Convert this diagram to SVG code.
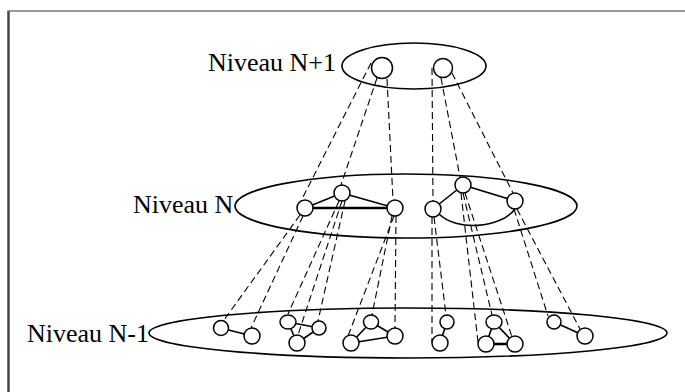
<svg xmlns="http://www.w3.org/2000/svg" width="685" height="392" viewBox="0 0 685 392">
  <style>
    .lvl { fill: none; stroke: #000; stroke-width: 1.6; }
    .nd { fill: #fff; stroke: #000; stroke-width: 1.5; }
    .ed { fill: none; stroke: #000; stroke-width: 1.6; }
    .ed-thick { fill: none; stroke: #000; stroke-width: 2.6; }
    .map { fill: none; stroke: #000; stroke-width: 1.1; stroke-dasharray: 7 4; }
    .lbl { font-family: "Liberation Serif", "Times New Roman", serif; font-size: 26px; fill: #000; }
  </style>
  <rect width="685" height="392" fill="#fff"/>

  <!-- outer frame (only left and top edges fall inside the canvas) -->
  <path d="M 8.5 392 V 11" stroke="#444" stroke-width="2.5" fill="none"/>
  <path d="M 7.5 11 H 685" stroke="#777" stroke-width="1.5" fill="none"/>

  <!-- level boundaries -->
  <g id="level-n1">
    <ellipse class="lvl" cx="414" cy="66" rx="72" ry="23"/>
    <text class="lbl" x="208" y="71">Niveau N+1</text>
  </g>
  <g id="level-n">
    <ellipse class="lvl" cx="406" cy="206" rx="171" ry="32"/>
    <text class="lbl" x="133" y="213">Niveau N</text>
  </g>
  <g id="level-n-1">
    <ellipse class="lvl" cx="408" cy="333" rx="259" ry="25"/>
    <text class="lbl" x="27" y="342">Niveau N-1</text>
  </g>

  <g id="connectors">
    <!-- inter-level mappings: N+1 to N -->
    <line class="map" x1="371" y1="63" x2="301" y2="201"/>
    <line class="map" x1="377" y1="78" x2="341" y2="185"/>
    <line class="map" x1="387" y1="79" x2="393" y2="200"/>
    <line class="map" x1="432" y1="68" x2="433" y2="201"/>
    <line class="map" x1="441" y1="78" x2="460" y2="177"/>
    <line class="map" x1="452" y1="73" x2="513" y2="193"/>
    <!-- inter-level mappings: N to N-1 -->
    <line class="map" x1="300" y1="215" x2="224" y2="320"/>
    <line class="map" x1="303" y1="216" x2="251" y2="328"/>
    <line class="map" x1="339" y1="201" x2="288" y2="314"/>
    <line class="map" x1="342" y1="201" x2="298" y2="335"/>
    <line class="map" x1="345" y1="201" x2="318" y2="321"/>
    <line class="map" x1="392" y1="216" x2="372" y2="315"/>
    <line class="map" x1="394" y1="216" x2="348" y2="336"/>
    <line class="map" x1="396" y1="216" x2="395" y2="328"/>
    <line class="map" x1="432" y1="217" x2="432" y2="343"/>
    <line class="map" x1="434" y1="217" x2="446" y2="315"/>
    <line class="map" x1="461" y1="193" x2="478" y2="342"/>
    <line class="map" x1="463" y1="193" x2="492" y2="315"/>
    <line class="map" x1="465" y1="193" x2="512" y2="337"/>
    <line class="map" x1="514" y1="209" x2="548" y2="316"/>
    <line class="map" x1="517" y1="209" x2="580" y2="329"/>

    <!-- edges inside level N -->
    <line class="ed" x1="305" y1="208" x2="342" y2="193"/>
    <line class="ed" x1="342" y1="193" x2="395" y2="208"/>
    <line class="ed-thick" x1="305" y1="208" x2="395" y2="208"/>
    <line class="ed" x1="433" y1="209" x2="463" y2="185"/>
    <line class="ed" x1="463" y1="185" x2="515" y2="201"/>
    <path class="ed" d="M 439 214 C 456 231, 500 229, 515 209"/>

    <!-- edges inside level N-1 -->
    <line class="ed" x1="221" y1="328" x2="252" y2="336"/>
    <line class="ed" x1="288" y1="322" x2="319" y2="328"/>
    <line class="ed" x1="288" y1="322" x2="297" y2="343"/>
    <line class="ed" x1="297" y1="343" x2="319" y2="328"/>
    <line class="ed" x1="351" y1="343" x2="371" y2="322"/>
    <line class="ed" x1="371" y1="322" x2="395" y2="336"/>
    <line class="ed" x1="351" y1="343" x2="395" y2="336"/>
    <line class="ed" x1="440" y1="343" x2="447" y2="322"/>
    <line class="ed" x1="494" y1="322" x2="486" y2="344"/>
    <line class="ed" x1="494" y1="322" x2="515" y2="344"/>
    <line class="ed-thick" x1="486" y1="344" x2="515" y2="344"/>
    <line class="ed" x1="554" y1="322" x2="585" y2="336"/>
  </g>

  <!-- level N+1 nodes -->
  <g id="t1"><circle class="nd" cx="382" cy="68" r="10.5"/></g>
  <g id="t2"><circle class="nd" cx="443" cy="68" r="9.5"/></g>

  <!-- level N nodes -->
  <g id="m1"><circle class="nd" cx="305" cy="208" r="8"/></g>
  <g id="m2"><circle class="nd" cx="342" cy="193" r="8"/></g>
  <g id="m3"><circle class="nd" cx="395" cy="208" r="8"/></g>
  <g id="m4"><circle class="nd" cx="433" cy="209" r="8"/></g>
  <g id="m5"><circle class="nd" cx="463" cy="185" r="8"/></g>
  <g id="m6"><circle class="nd" cx="515" cy="201" r="8"/></g>

  <!-- level N-1 nodes -->
  <g id="b1"><circle class="nd" cx="221" cy="328" r="7.5"/></g>
  <g id="b2"><circle class="nd" cx="252" cy="336" r="8"/></g>
  <g id="b3"><ellipse class="nd" cx="288" cy="322" rx="8" ry="7"/></g>
  <g id="b4"><circle class="nd" cx="319" cy="328" r="7"/></g>
  <g id="b5"><circle class="nd" cx="297" cy="343" r="8"/></g>
  <g id="b6"><ellipse class="nd" cx="371" cy="322" rx="7.5" ry="7"/></g>
  <g id="b7"><circle class="nd" cx="351" cy="343" r="8"/></g>
  <g id="b8"><circle class="nd" cx="395" cy="336" r="8"/></g>
  <g id="b9"><circle class="nd" cx="447" cy="322" r="7"/></g>
  <g id="b10"><circle class="nd" cx="440" cy="343" r="8"/></g>
  <g id="b11"><ellipse class="nd" cx="494" cy="322" rx="8" ry="7"/></g>
  <g id="b12"><circle class="nd" cx="486" cy="344" r="8"/></g>
  <g id="b13"><circle class="nd" cx="515" cy="344" r="8"/></g>
  <g id="b14"><circle class="nd" cx="554" cy="322" r="7"/></g>
  <g id="b15"><circle class="nd" cx="585" cy="336" r="8"/></g>
</svg>
